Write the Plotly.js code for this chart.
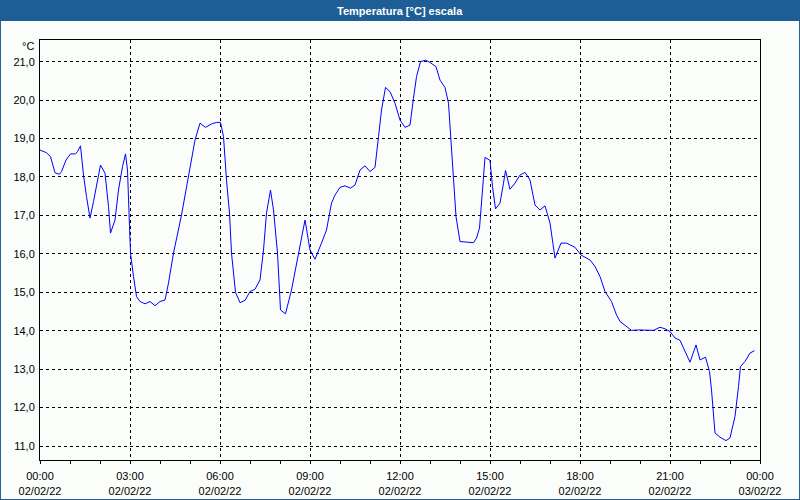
<!DOCTYPE html>
<html>
<head>
<meta charset="utf-8">
<script src="https://cdn.plot.ly/plotly-3.0.1.min.js"></script>
<style>
  html, body { margin: 0; padding: 0; background: #fbfdfb; }
  #chart { width: 800px; height: 500px; }
</style>
</head>
<body>
<div id="chart"></div>
<script>
// minutes after 00:00 on 02/02/22
const minutes = [0, 13, 21, 30, 39, 43, 52, 61, 71, 75, 81, 87, 93, 100, 107, 115, 121, 130, 137, 141,
  150, 157, 165, 171, 175, 179, 181, 187, 193, 200, 210, 220, 230, 240, 250, 257, 267, 283, 293,
  300, 310, 320, 331, 343, 353, 361, 367, 373, 379, 383, 391, 400, 410, 420, 430, 440, 447, 453, 461,
  467, 475, 481, 491, 503, 517, 530, 540, 550, 563, 573, 583, 590,
  600, 610, 621, 630, 640, 650, 660, 670, 677, 683, 691, 700, 710, 720, 730, 740, 747, 753, 761, 771,
  780, 792, 800, 810, 817, 821, 827, 832, 840, 853, 867, 873, 879,
  885, 890, 900, 905, 911, 920, 927, 931, 940, 950, 960, 970, 980, 990, 1000, 1010, 1020, 1030, 1042,
  1053, 1070, 1082, 1100, 1110, 1120, 1130, 1143, 1153, 1160, 1170,
  1183, 1197, 1213, 1227, 1240, 1250, 1260, 1270, 1280, 1290, 1300, 1312, 1320, 1331, 1339, 1343,
  1350, 1360, 1372, 1380, 1390, 1397, 1401, 1410, 1420, 1429];
const temps = [18.70, 18.63, 18.53, 18.11, 18.07, 18.14, 18.44, 18.60, 18.60, 18.66, 18.81, 18.05, 17.49, 16.93, 17.36, 17.92, 18.31, 18.10, 17.23, 16.54,
  16.88, 17.66, 18.27, 18.60, 18.18, 16.71, 16.02, 15.41, 14.89, 14.76, 14.70, 14.76, 14.65, 14.76, 14.80, 15.24, 16.02, 17.01, 17.71,
  18.27, 18.96, 19.40, 19.29, 19.38, 19.42, 19.42, 19.05, 17.92, 17.06, 16.02, 15.00, 14.73, 14.79, 15.02, 15.08, 15.32, 16.10, 17.06, 17.66,
  17.14, 16.02, 14.54, 14.44, 15.06, 16.02, 16.88, 16.10, 15.86, 16.28, 16.62, 17.32, 17.53,
  17.73, 17.77, 17.71, 17.79, 18.18, 18.29, 18.14, 18.25, 19.05, 19.74, 20.33, 20.22, 19.92, 19.48, 19.29, 19.35, 20.05, 20.61, 21.00, 21.04,
  20.98, 20.87, 20.52, 20.33, 19.92, 19.05, 18.01, 16.97, 16.32, 16.30, 16.29, 16.41, 16.67,
  17.66, 18.51, 18.43, 17.75, 17.17, 17.32, 17.84, 18.17, 17.68, 17.84, 18.05, 18.12, 17.92, 17.27, 17.14, 17.25, 16.80, 15.89, 16.28,
  16.28, 16.17, 15.97, 15.84, 15.67, 15.41, 15.02, 14.76, 14.41, 14.24, 14.13,
  14.01, 14.02, 14.01, 14.01, 14.09, 14.05, 13.98, 13.81, 13.75, 13.46, 13.18, 13.63, 13.24, 13.31, 12.94, 12.46,
  11.34, 11.23, 11.14, 11.21, 11.77, 12.55, 13.07, 13.20, 13.42, 13.48];

const tickTimes = ['2022-02-02 00:00', '2022-02-02 03:00', '2022-02-02 06:00', '2022-02-02 09:00',
  '2022-02-02 12:00', '2022-02-02 15:00', '2022-02-02 18:00', '2022-02-02 21:00', '2022-02-03 00:00'];
const tickLabels = ['00:00<br>02/02/22', '03:00<br>02/02/22', '06:00<br>02/02/22', '09:00<br>02/02/22',
  '12:00<br>02/02/22', '15:00<br>02/02/22', '18:00<br>02/02/22', '21:00<br>02/02/22', '00:00<br>03/02/22'];
const yTicks = [11, 12, 13, 14, 15, 16, 17, 18, 19, 20, 21];

function toTime(m) {
  const h = Math.floor(m / 60), mm = m % 60;
  return '2022-02-02 ' + String(h).padStart(2, '0') + ':' + String(mm).padStart(2, '0');
}
const times = minutes.map(toTime);

const font = { family: 'Liberation Sans, Arial, sans-serif', size: 11, color: '#000' };

const trace = {
  x: times, y: temps, type: 'scatter', mode: 'lines',
  line: { color: '#0000ff', width: 1 }, hoverinfo: 'skip'
};

const layout = {
  width: 800, height: 500,
  margin: { l: 40, r: 40, t: 40, b: 40, pad: 0 },
  paper_bgcolor: '#fbfdfb', plot_bgcolor: '#fbfdfb',
  separators: ',.',
  showlegend: false,
  font: font,
  xaxis: {
    type: 'date',
    range: ['2022-02-02 00:00', '2022-02-03 00:00'],
    tickmode: 'array', tickvals: tickTimes, ticktext: tickLabels,
    ticks: 'outside', ticklen: 3, tickcolor: '#000', tickwidth: 1,
    showgrid: true, gridcolor: '#000', gridwidth: 1, griddash: '3px,3px',
    showline: true, linecolor: '#000', linewidth: 1, mirror: true,
    zeroline: false, tickfont: font, ticklabelstandoff: 3,
    minor: { dtick: 3600000, tick0: '2022-02-02 00:00', ticks: 'outside', ticklen: 3, tickcolor: '#000', showgrid: false }
  },
  yaxis: {
    range: [10.636, 21.564],
    tickmode: 'array', tickvals: yTicks, tickformat: '.1f',
    ticks: '', showgrid: true, gridcolor: '#000', gridwidth: 1, griddash: '3px,3px',
    showline: true, linecolor: '#000', linewidth: 1, mirror: true,
    zeroline: false, tickfont: font, ticklabelstandoff: 2
  },
  shapes: [
    { type: 'rect', xref: 'paper', yref: 'paper', x0: -0.0556, x1: 1.0556, y0: 1.0452, y1: 1.0952,
      fillcolor: '#1d5e96', line: { width: 0 }, layer: 'below' },
    { type: 'rect', xref: 'paper', yref: 'paper', x0: -0.0556, x1: 1.0556, y0: -0.0952, y1: 1.0952,
      fillcolor: 'rgba(0,0,0,0)', line: { color: '#1d5e96', width: 2 }, layer: 'above' }
  ],
  annotations: [
    { text: '<b>Temperatura [°C] escala</b>', xref: 'paper', yref: 'paper', x: 0.5, y: 1.0702,
      xanchor: 'center', yanchor: 'middle', showarrow: false,
      font: { family: 'Liberation Sans, Arial, sans-serif', size: 11, color: '#ffffff' } },
    { text: '°C', xref: 'paper', yref: 'paper', x: -0.0056, y: 0.9857,
      xanchor: 'right', yanchor: 'middle', showarrow: false, font: font }
  ]
};

Plotly.newPlot('chart', [trace], layout, { displayModeBar: false, staticPlot: true });
</script>
</body>
</html>
